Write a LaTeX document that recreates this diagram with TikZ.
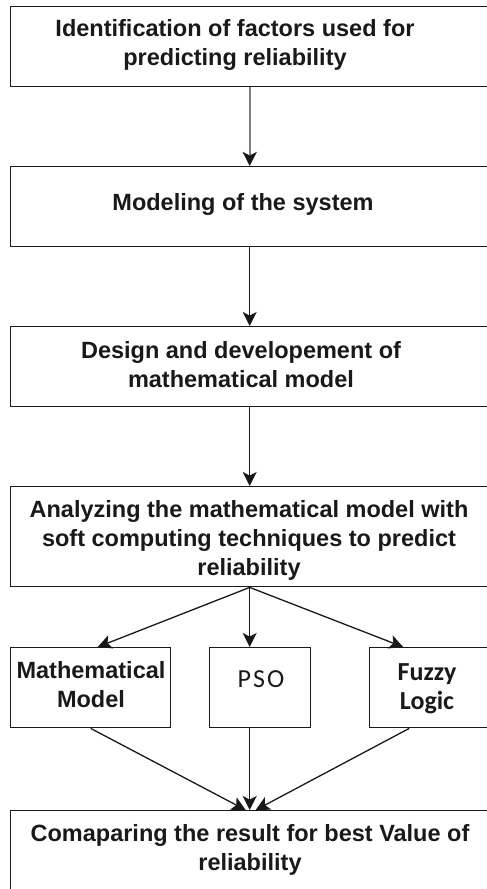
\documentclass[tikz,border=0pt]{standalone}
\usepackage{fontspec}
\setmainfont{Liberation Sans}
\newfontfamily\calibfont{Carlito}
\usetikzlibrary{arrows.meta}

\begin{document}
\begin{tikzpicture}[x=1pt,y=-1pt,
  box/.style={draw=black!90, line width=1.4pt, rectangle, inner sep=0pt, anchor=north west},
  lbl/.style={font=\bfseries\fontsize{23.5}{29}\selectfont, align=center, inner sep=0pt, anchor=base, text=black!90},
  alt/.style={font=\calibfont\fontsize{26}{29}\selectfont, align=center, inner sep=0pt, anchor=base, text=black!90},
  flow/.style={draw=black!90, line width=1.3pt, -{Stealth[length=14pt,width=14pt,inset=3.5pt,color=black!90]}},
]
\useasboundingbox (0,0) rectangle (487,889);

% process boxes
\node[box, minimum width=478pt, minimum height=80pt] (b1) at (10,6) {};
\node[box, minimum width=478pt, minimum height=80pt] (b2) at (10,166) {};
\node[box, minimum width=478pt, minimum height=80pt] (b3) at (10,326) {};
\node[box, minimum width=478pt, minimum height=100pt] (b4) at (10,486) {};
\node[box, minimum width=160pt, minimum height=80pt] (mm) at (10,647) {};
\node[box, minimum width=101pt, minimum height=80pt] (ps) at (209,647) {};
\node[box, minimum width=119pt, minimum height=80pt] (fz) at (369,647) {};
\node[box, minimum width=478pt, minimum height=100pt] (b5) at (10,810) {};

% box texts (anchored at the baseline of the last line)
\node[lbl] (t1) at (235,65) {Identification of factors used for\\predicting reliability};
\node[lbl] (t2) at (243,210) {Modeling of the system};
\node[lbl] (t3) at (241,387) {Design and developement of\\mathematical model};
\node[lbl] (t4) at (249,575) {Analyzing the mathematical model with\\soft computing techniques to predict\\reliability};
\node[lbl] (tm) at (91,707) {Mathematical\\Model};
\node[alt] (tp) at (261,687) {\addfontfeature{LetterSpace=8}PSO};
\node[alt, font=\calibfont\bfseries\fontsize{26}{29}\selectfont] (tf) at (427,709) {Fuzzy\\Logic};
\node[lbl] (t5) at (250,870) {Comaparing the result for best Value of\\reliability};

% connectors
\draw[flow, draw=black!50, line width=2.4pt] (b1.south) -- (b2.north);
\draw[flow] (b2.south) -- (b3.north);
\draw[flow] (b3.south) -- (b4.north);
\draw[flow] (b4.south) -- ([xshift=7pt]mm.north);
\draw[flow] (b4.south) -- (b4.south |- ps.north);
\draw[flow] (b4.south) -- ([xshift=-26pt]fz.north);
\draw[flow] (mm.south) -- ([xshift=-4pt]b5.north);
\draw[flow] (ps.south -| b5.north) -- (b5.north);
\draw[flow] ([xshift=-20pt]fz.south) -- ([xshift=6pt]b5.north);
\end{tikzpicture}
\end{document}
